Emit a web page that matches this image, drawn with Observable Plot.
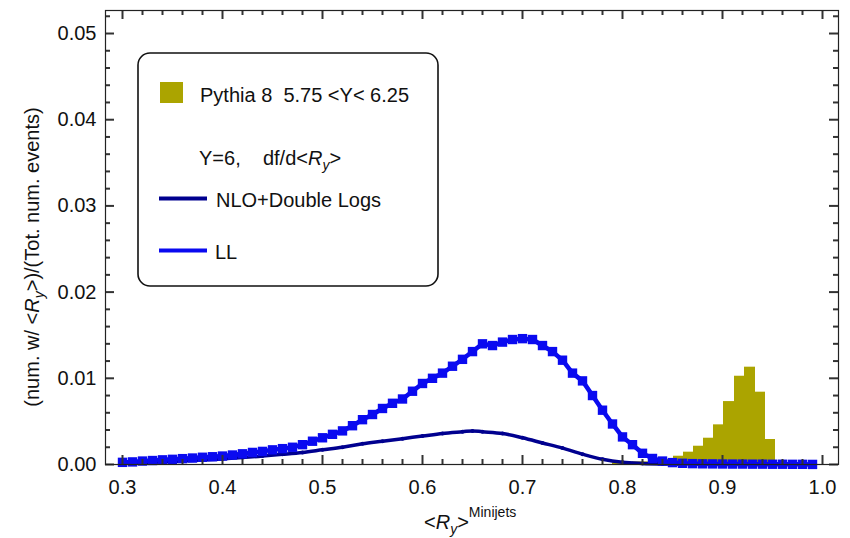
<!DOCTYPE html>
<html><head><meta charset="utf-8">
<script src="https://cdn.jsdelivr.net/npm/d3@7"></script>
<script src="https://cdn.jsdelivr.net/npm/@observablehq/plot@0.6"></script>
<style>body{margin:0;background:#fff;overflow:hidden} svg text{font-family:"Liberation Sans",Arial,sans-serif}</style>
</head><body><div id="chart"></div>
<script>
// LL curve (x = <R_y>, y = fraction)
const llR = [0.30,0.31,0.32,0.33,0.34,0.35,0.36,0.37,0.38,0.39,0.40,0.41,0.42,0.43,0.44,0.45,0.46,0.47,0.48,0.49,0.50,0.51,0.52,0.53,0.54,0.55,0.56,0.57,0.58,0.59,0.60,0.61,0.62,0.63,0.64,0.65,0.66,0.67,0.68,0.69,0.70,0.71,0.72,0.73,0.74,0.75,0.76,0.77,0.78,0.79,0.80,0.81,0.82,0.83,0.84,0.85,0.86,0.87,0.88,0.89,0.90,0.91,0.92,0.93,0.94,0.95,0.96,0.97,0.98,0.99];
const llVal = [0.00025,0.0003,0.0004,0.00046,0.00054,0.0006,0.00068,0.00075,0.00084,0.0009,0.00098,0.0011,0.00124,0.0014,0.00152,0.0017,0.00184,0.002,0.0023,0.0027,0.0031,0.0035,0.0039,0.0045,0.0052,0.0058,0.0065,0.0071,0.0076,0.0085,0.0094,0.01,0.0106,0.0114,0.0122,0.0131,0.014,0.0138,0.0142,0.0145,0.0146,0.0145,0.0138,0.0131,0.0121,0.0106,0.0097,0.008,0.0063,0.0047,0.0032,0.0023,0.0013,0.0007,0.0004,0.00022,0.00014,0.0001,0.00008,0.00007,0.00006,0.00005,0.00005,0.00004,0.00004,0.00003,0.00003,0.00002,0.00002,0.00001];
// NLO + Double Logs curve
const nloR = [0.30,0.32,0.34,0.36,0.38,0.40,0.42,0.44,0.46,0.48,0.50,0.52,0.54,0.56,0.58,0.60,0.62,0.64,0.65,0.66,0.68,0.70,0.72,0.74,0.76,0.78,0.80,0.82,0.84,0.86];
const nloVal = [0.00012,0.0002,0.0003,0.0004,0.00052,0.00065,0.0008,0.00098,0.00118,0.0014,0.0017,0.002,0.0024,0.0027,0.003,0.0033,0.0036,0.0038,0.0039,0.0038,0.0036,0.0031,0.0025,0.0019,0.0012,0.0006,0.00025,0.00012,0.00006,0.00003];
// Pythia 8 histogram, 5.75 < Y < 6.25
const pythiaEdges = [0.79,0.80,0.81,0.82,0.83,0.84,0.851,0.861,0.871,0.881,0.891,0.901,0.912,0.922,0.933,0.943,0.953];
const pythiaVal = [0.0002,0.0002,0.0003,0.0003,0.0004,0.0006,0.00096,0.00143,0.00212,0.00305,0.0046,0.0073,0.01024,0.01129,0.00839,0.0029];
// ticks
const xMajor = [0.3,0.4,0.5,0.6,0.7,0.8,0.9,1.0];
const xMinor = [0.32,0.34,0.36,0.38,0.42,0.44,0.46,0.48,0.52,0.54,0.56,0.58,0.62,0.64,0.66,0.68,0.72,0.74,0.76,0.78,0.82,0.84,0.86,0.88,0.92,0.94,0.96,0.98];
const yMajor = [0,0.01,0.02,0.03,0.04,0.05];
const yMinor = [0.002,0.004,0.006,0.008,0.012,0.014,0.016,0.018,0.022,0.024,0.026,0.028,0.032,0.034,0.036,0.038,0.042,0.044,0.046,0.048,0.052];

const OLIVE = "#aba400", LL = "#0a0af0", NLO = "#00008f";
const ll = llR.map((r,i)=>({r, v: llVal[i]}));
const nlo = nloR.map((r,i)=>({r, v: nloVal[i]}));
const hist = pythiaVal.map((v,i)=>({x1: pythiaEdges[i], x2: pythiaEdges[i+1], v}));

const W = 850, H = 538, ML = 105, MR = 12, MT = 10, MB = 74;
const FW = W - ML - MR, FH = H - MT - MB;
const fmtX = d => d3.format(".1f")(d);
const fmtY = d => d3.format(".2f")(d);
// inward ticks on all four sides, drawn as inset rules
const tickMarks = [];
const tk = {stroke: "#333", strokeWidth: 2};
for (const [vals, len] of [[xMajor, 9], [xMinor, 5]]) {
  tickMarks.push(Plot.ruleX(vals, {x: d => d, insetTop: FH - len, ...tk}));
  tickMarks.push(Plot.ruleX(vals, {x: d => d, insetBottom: FH - len, ...tk}));
}
for (const [vals, len] of [[yMajor, 9], [yMinor, 5]]) {
  tickMarks.push(Plot.ruleY(vals, {y: d => d, insetRight: FW - len, ...tk}));
  tickMarks.push(Plot.ruleY(vals, {y: d => d, insetLeft: FW - len, ...tk}));
}

const svg = Plot.plot({
  width: W, height: H,
  marginLeft: ML, marginRight: MR, marginTop: MT, marginBottom: MB,
  style: {fontFamily: '"Liberation Sans", Arial, sans-serif', background: "#fff"},
  x: {domain: [0.283, 1.016], label: null},
  y: {domain: [0, 0.05267], label: null},
  marks: [
    Plot.rectY(hist, {x1: "x1", x2: "x2", y: "v", fill: OLIVE}),
    Plot.line(nlo, {x: "r", y: "v", stroke: NLO, strokeWidth: 3.5, curve: "catmull-rom"}),
    Plot.dot(nlo, {x: "r", y: "v", r: 2, fill: NLO}),
    Plot.line(ll, {x: "r", y: "v", stroke: LL, strokeWidth: 4.5}),
    Plot.dot(ll, {x: "r", y: "v", symbol: "square", r: 5.3, fill: LL}),
    ...tickMarks,
    Plot.frame({stroke: "#222", strokeWidth: 1.2}),
    Plot.axisX(xMajor, {anchor: "bottom", tickSize: 0, tickPadding: 15, tickFormat: fmtX, fontSize: 20, fill: "#111"}),
    Plot.axisY(yMajor, {anchor: "left", tickSize: 0, tickPadding: 9, tickFormat: fmtY, fontSize: 20, fill: "#111"})
  ]
});
document.getElementById("chart").appendChild(svg);

const s = d3.select(svg);
// Y axis label
const yl = s.append("text").attr("transform", "translate(39,257) rotate(-90)")
  .attr("text-anchor", "middle").attr("font-size", 20).attr("fill", "#111");
yl.append("tspan").text("(num. w/ <");
yl.append("tspan").attr("font-style", "italic").text("R");
yl.append("tspan").attr("font-style", "italic").attr("font-size", 14).attr("dy", 5).text("y");
yl.append("tspan").attr("dy", -5).text(">)/(Tot. num. events)");
// X axis label
const xl = s.append("text").attr("x", 424).attr("y", 529).attr("text-anchor", "start").attr("font-size", 20).attr("fill", "#111");
xl.append("tspan").text("<");
xl.append("tspan").attr("font-style", "italic").text("R");
xl.append("tspan").attr("font-style", "italic").attr("font-size", 14).attr("dy", 5).text("y");
xl.append("tspan").attr("dy", -5).text(">");
xl.append("tspan").attr("font-size", 14).attr("dy", -12).text("Minijets");

// Legend
const g = s.append("g").attr("text-anchor", "start");
g.append("rect").attr("x", 138).attr("y", 53).attr("width", 300).attr("height", 233).attr("rx", 12)
  .attr("fill", "#fff").attr("stroke", "#111").attr("stroke-width", 1.6);
g.append("rect").attr("x", 160).attr("y", 82).attr("width", 23).attr("height", 21).attr("fill", OLIVE);
g.append("text").attr("x", 200).attr("y", 102).attr("font-size", 20).attr("fill", "#111")
  .style("white-space", "pre").text("Pythia 8  5.75 <Y< 6.25");
const t2 = g.append("text").attr("x", 199).attr("y", 165).attr("font-size", 20).attr("fill", "#111").style("white-space", "pre");
t2.append("tspan").text("Y=6,    df/d<");
t2.append("tspan").attr("font-style", "italic").text("R");
t2.append("tspan").attr("font-style", "italic").attr("font-size", 14).attr("dy", 5).text("y");
t2.append("tspan").attr("dy", -5).text(">");
g.append("line").attr("x1", 159).attr("x2", 207).attr("y1", 198.5).attr("y2", 198.5).attr("stroke", NLO).attr("stroke-width", 4);
g.append("text").attr("x", 216).attr("y", 207).attr("font-size", 20).attr("fill", "#111").text("NLO+Double Logs");
g.append("line").attr("x1", 159).attr("x2", 207).attr("y1", 250.5).attr("y2", 250.5).attr("stroke", LL).attr("stroke-width", 4);
g.append("text").attr("x", 215).attr("y", 259).attr("font-size", 20).attr("fill", "#111").text("LL");
</script>
</body></html>
